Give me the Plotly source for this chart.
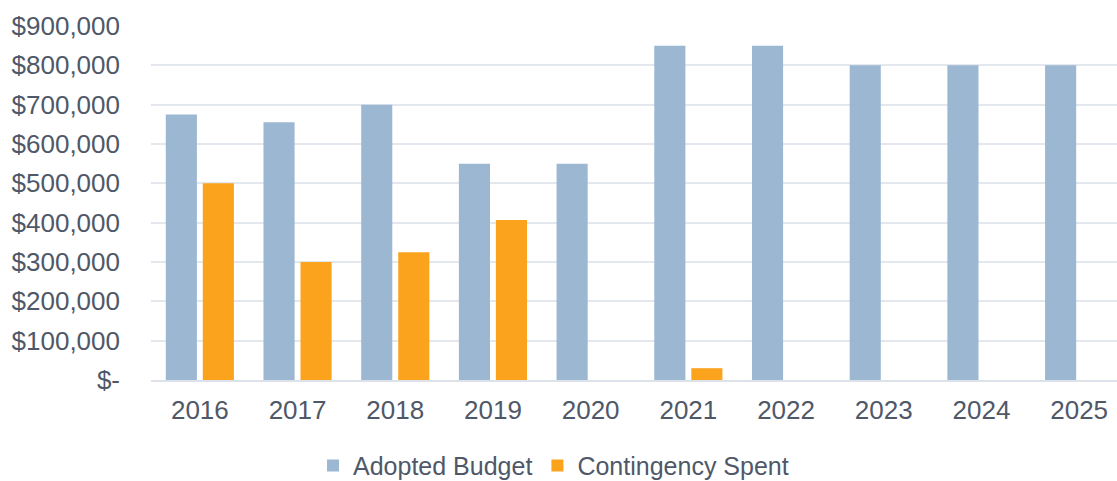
import plotly.graph_objects as go

years = ["2016", "2017", "2018", "2019", "2020", "2021", "2022", "2023", "2024", "2025"]
adopted_budget = [675000, 655000, 700000, 550000, 550000, 850000, 850000, 800000, 800000, 800000]
contingency_spent = [500000, 300000, 325000, 407000, None, 30000, None, None, None, None]
y_tick_vals = [0, 100000, 200000, 300000, 400000, 500000, 600000, 700000, 800000, 900000]
y_tick_text = ["$-", "$100,000", "$200,000", "$300,000", "$400,000", "$500,000",
               "$600,000", "$700,000", "$800,000", "$900,000"]

text_color = "#4F5868"
font_family = "Liberation Sans, Arial, sans-serif"

fig = go.Figure()
fig.add_trace(go.Bar(x=years, y=adopted_budget, name="Adopted Budget",
                     marker=dict(color="#9BB7D1", line=dict(width=0))))
fig.add_trace(go.Bar(x=years, y=contingency_spent, name="Contingency Spent",
                     marker=dict(color="#FCA31E", line=dict(width=0))))

fig.update_layout(
    width=1128, height=481,
    margin=dict(l=151, r=0, t=26, b=101, autoexpand=False),
    plot_bgcolor="white", paper_bgcolor="white",
    barmode="group", bargap=0.242, bargroupgap=0.16,
    font=dict(family=font_family, size=26, color=text_color),
    legend=dict(orientation="h", x=0.412, xanchor="center", y=-0.177, yanchor="top",
                font=dict(size=25, color=text_color), itemwidth=30,
                tracegroupgap=0, traceorder="normal"),
    showlegend=True,
)
fig.update_xaxes(showgrid=False, showline=True, linecolor="#DDE2EA", linewidth=2,
                 tickfont=dict(size=26, color=text_color), ticks="", ticklabelstandoff=6)
fig.update_yaxes(range=[0, 900000], tickvals=y_tick_vals, ticktext=y_tick_text,
                 showgrid=True, gridcolor="#E3E7EE", gridwidth=2, zeroline=False,
                 showline=False, tickfont=dict(size=26, color=text_color),
                 ticks="", ticklabelstandoff=30)

fig.write_html("out.html", config={"displayModeBar": False},
               post_script="document.body.style.margin='0px';document.body.style.padding='0px';"
                           "document.body.style.overflow='hidden';")
